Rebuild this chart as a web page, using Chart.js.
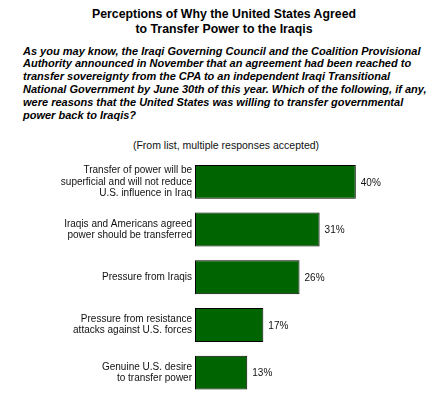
<!DOCTYPE html>
<html>
<head>
<meta charset="utf-8">
<script src="https://cdn.jsdelivr.net/npm/chart.js@4"></script>
<style>
  html, body { margin: 0; padding: 0; background: #fff; overflow: hidden; }
  body { width: 440px; height: 395px; position: relative; font-family: "Liberation Sans", Arial, sans-serif; color: #000; }
  #title { position: absolute; top: 7px; left: 4px; width: 440px; text-align: center; font-weight: bold; font-size: 12.3px; line-height: 14.5px; }
  #question { position: absolute; top: 44.5px; left: 23px; white-space: nowrap; font-weight: bold; font-style: italic; font-size: 11px; line-height: 12.9px; }
  #note { position: absolute; top: 139px; left: 6px; width: 440px; text-align: center; font-size: 10.5px; line-height: 12px; color: #111; }
  #wrap { position: absolute; top: 158px; left: 0; width: 440px; height: 240px; }
</style>
</head>
<body>
<div id="title">Perceptions of Why the United States Agreed<br>to Transfer Power to the Iraqis</div>
<div id="question">As you may know, the Iraqi Governing Council and the Coalition Provisional<br>Authority announced in November that an agreement had been reached to<br>transfer sovereignty from the CPA to an independent Iraqi Transitional<br>National Government by June 30th of this year. Which of the following, if any,<br>were reasons that the United States was willing to transfer governmental<br>power back to Iraqis?</div>
<div id="note">(From list, multiple responses accepted)</div>
<div id="wrap"><canvas id="barchart"></canvas></div>
<script>
const categories = [
  ['Transfer of power will be', 'superficial and will not reduce', 'U.S. influence in Iraq'],
  ['Iraqis and Americans agreed', 'power should be transferred'],
  'Pressure from Iraqis',
  ['Pressure from resistance', 'attacks against U.S. forces'],
  ['Genuine U.S. desire', 'to transfer power']
];
const percents = [40, 31, 26, 17, 13];

// percent labels to the right of each bar
const valueLabels = {
  id: 'valueLabels',
  afterDatasetsDraw(chart) {
    const ctx = chart.ctx;
    ctx.save();
    ctx.font = '10px "Liberation Sans", Arial, sans-serif';
    ctx.fillStyle = '#111';
    ctx.textAlign = 'left';
    ctx.textBaseline = 'middle';
    chart.getDatasetMeta(0).data.forEach((bar, i) => {
      ctx.fillText(percents[i] + '%', bar.x + 5, bar.y + 1);
    });
    ctx.restore();
  }
};

new Chart(document.getElementById('barchart'), {
  type: 'bar',
  data: {
    labels: categories,
    datasets: [{
      data: percents,
      backgroundColor: '#006400',
      borderColor: '#000',
      borderWidth: 1,
      borderSkipped: false,
      barPercentage: 0.71,
      categoryPercentage: 1
    }]
  },
  options: {
    indexAxis: 'y',
    responsive: true,
    maintainAspectRatio: false,
    animation: false,
    events: [],
    layout: {
      padding: { top: 0, bottom: 1.5, left: 0, right: 44 }
    },
    plugins: {
      legend: { display: false },
      tooltip: { enabled: false }
    },
    scales: {
      x: {
        display: false,
        min: 0,
        max: 50
      },
      y: {
        grid: { display: false, drawTicks: false },
        border: { display: false },
        ticks: {
          color: '#111',
          padding: 3,
          font: { family: '"Liberation Sans", Arial, sans-serif', size: 10, lineHeight: 1.12 }
        },
        afterFit(scale) {
          scale.width = 195;
          scale.paddingTop = 0;
          scale.paddingBottom = 0;
        }
      }
    }
  },
  plugins: [valueLabels]
});
</script>
</body>
</html>
